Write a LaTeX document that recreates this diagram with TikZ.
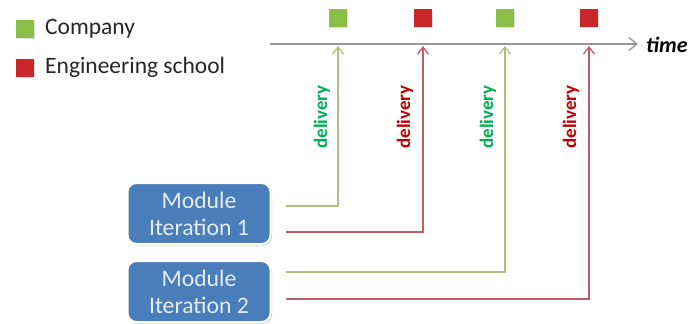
\documentclass[tikz,border=0pt]{standalone}
\usepackage{fontspec}
\setmainfont{Carlito}
\usetikzlibrary{arrows.meta,shadows}
\definecolor{boxblue}{RGB}{74,126,187}
\definecolor{boxtext}{RGB}{228,236,246}
\definecolor{cgreen}{RGB}{139,190,70}
\definecolor{cred}{RGB}{200,38,40}
\definecolor{lgreen}{RGB}{178,190,125}
\definecolor{lred}{RGB}{192,92,102}
\definecolor{tgreen}{RGB}{0,176,80}
\definecolor{tred}{RGB}{192,0,0}
\definecolor{axisgray}{RGB}{150,150,150}
\tikzset{
  marker/.style={minimum size=18pt, inner sep=0pt, drop shadow={opacity=0.25,shadow xshift=0.8pt,shadow yshift=-0.8pt}},
  legendtext/.style={anchor=west, inner sep=0pt, font=\fontsize{23.5}{26}\selectfont, text=black!85},
  iterbox/.style={rounded corners=9pt, fill=boxblue, draw=white, line width=2pt,
    minimum width=143pt, minimum height=61pt, text=boxtext, align=center,
    font=\fontsize{23.7}{27}\selectfont,
    drop shadow={opacity=0.35,shadow xshift=1.5pt,shadow yshift=-1.5pt}},
  feed/.style={line width=1.6pt, -{Straight Barb[length=7pt,width=11pt,line width=1.3pt]}},
  gfeed/.style={feed, lgreen},
  rfeed/.style={feed, lred},
  dlabel/.style={rotate=90, inner sep=0pt, font=\fontsize{19}{21}\selectfont\bfseries}
}
\begin{document}
\begin{tikzpicture}[x=1pt,y=-1pt]
\useasboundingbox (0,0) rectangle (689,324);

% legend
\node[marker, fill=cgreen] (lgC) at (25,29) {};
\node[marker, fill=cred] (lgE) at (25,68) {};
\node[legendtext] (lgCt) at (45,29) {Company};
\node[legendtext] (lgEt) at (45,67) {Engineering school};

% time axis
\coordinate (ax0) at (270,44);
\coordinate (ax1) at (638,44);
\draw[axisgray, line width=1.6pt, -{Straight Barb[length=8pt,width=13pt,line width=1.3pt]}] (ax0) -- (ax1);
\node[anchor=west, inner sep=0pt, font=\fontsize{22}{24}\selectfont\bfseries\itshape] (time) at (646,45) {time};

% deliveries on the axis
\node[marker, fill=cgreen] (m1) at (338,18) {};
\node[marker, fill=cred]   (m2) at (423,18) {};
\node[marker, fill=cgreen] (m3) at (505,18) {};
\node[marker, fill=cred]   (m4) at (589,18) {};

\coordinate (t1) at (338,46);
\coordinate (t2) at (423,46);
\coordinate (t3) at (505,46);
\coordinate (t4) at (589,46);

% module iterations
\node[iterbox] (it1) at (199,213.5) {Module\\Iteration 1};
\node[iterbox] (it2) at (199,291.5) {Module\\Iteration 2};

\coordinate (s1) at (286,206);
\coordinate (s2) at (286,232);
\coordinate (s3) at (286,272);
\coordinate (s4) at (286,299);

\draw[gfeed] (s1) -| (t1);
\draw[rfeed] (s2) -| (t2);
\draw[gfeed] (s3) -| (t3);
\draw[rfeed] (s4) -| (t4);

% labels
\node[dlabel, text=tgreen] (d1) at (322,117) {delivery};
\node[dlabel, text=tred]   (d2) at (405,117) {delivery};
\node[dlabel, text=tgreen] (d3) at (488,117) {delivery};
\node[dlabel, text=tred]   (d4) at (571,117) {delivery};
\end{tikzpicture}
\end{document}
